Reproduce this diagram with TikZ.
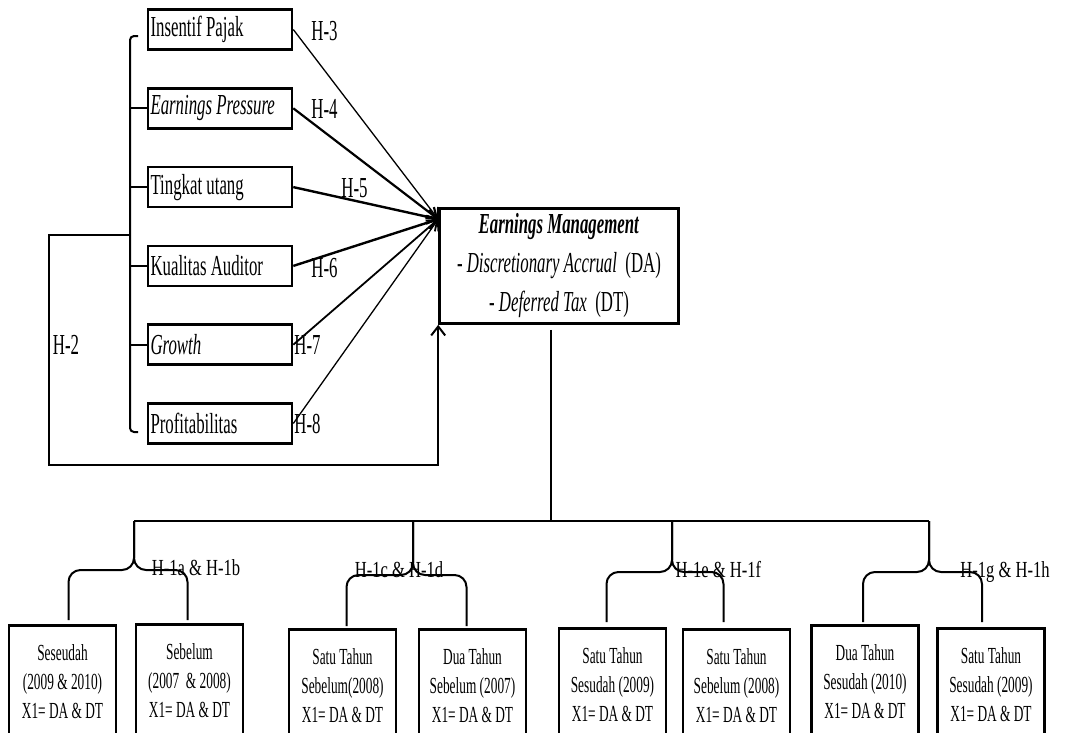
\documentclass[tikz,border=0pt]{standalone}
\usepackage{fontspec}
\setmainfont[FakeStretch=0.58]{Liberation Serif}
\newfontfamily\lblfont[FakeStretch=0.72]{Liberation Serif}
\usetikzlibrary{arrows.meta,positioning,calc}

\begin{document}
\begin{tikzpicture}[x=1pt, y=-1pt, >={Straight Barb[length=9pt,width=14pt]},
    varbox/.style={draw, line width=2.6pt, minimum width=144pt, minimum height=40pt,
      text width=139pt, align=left, inner xsep=2.5pt, font=\fontsize{29}{34}\selectfont,
      execute at begin node={\spaceskip=\fontdimen2\font}},
    yearbox/.style={draw, line width=2.6pt, anchor=north, minimum width=107pt,
      minimum height=112pt, text width=101pt, align=center, inner xsep=3pt,
      font=\fontsize{23}{29}\selectfont, execute at begin node={\spaceskip=\fontdimen2\font}},
    hlbl/.style={anchor=base, inner sep=0pt, font=\fontsize{29}{34}\selectfont},
    hsub/.style={anchor=base, inner sep=0pt, font=\lblfont\fontsize{23}{28}\selectfont},
    brk/.style={line width=2pt},
    arr/.style={->, line width=1.6pt},
    brace/.style={line width=2pt, rounded corners=12pt}]

    \useasboundingbox (0,0) rectangle (1074,732);
    \clip (0,0) rectangle (1074,732);

    \node[varbox] (ip) at (220,29.5) {Insentif Pajak};
    \node[varbox, below=36.2pt of ip] (ep) {\textit{Earnings Pressure}};
    \node[varbox, below=36.2pt of ep] (tu) {Tingkat utang};
    \node[varbox, below=36.2pt of tu] (ka) {Kualitas Auditor};
    \node[varbox, below=36.2pt of ka] (gr) {\textit{Growth}};
    \node[varbox, below=36.2pt of gr] (pf) {Profitabilitas};

    \node[draw, line width=2.6pt, minimum width=239pt, minimum height=115pt, align=center,
      font=\fontsize{29}{39}\selectfont] (em) at (559,266)
      {\textbf{\textit{Earnings Management}}\\- \textit{Discretionary Accrual}\ \ (DA)\\- \textit{Deferred Tax}\ \ (DT)};
    \coordinate (conv) at ([yshift=-12pt]em.north west);

    \draw[arr, line width=1.3pt] (ip.east) -- (conv);
    \draw[arr, line width=2.2pt] (ep.east) -- (conv);
    \draw[arr, line width=2.4pt] (tu.east) -- (conv);
    \draw[arr, line width=2.4pt] (ka.east) -- (conv);
    \draw[arr, line width=1.8pt] (gr.east) -- (conv);
    \draw[arr, line width=1.3pt] (pf.east) -- (conv);

    \node[hlbl] (h3) at (324.5,40) {H-3};
    \node[hlbl] (h4) at (324.5,118) {H-4};
    \node[hlbl] (h5) at (354.5,197) {H-5};
    \node[hlbl] (h6) at (324.5,277) {H-6};
    \node[hlbl] (h7) at (307.5,354) {H-7};
    \node[hlbl] (h8) at (307.5,433) {H-8};
    \node[hlbl] (h2) at (66,354) {H-2};

    \coordinate (brtop) at (138,36);
    \coordinate (brbot) at (138,432);
    \coordinate (brmid) at (130,235);
    \draw[brk, rounded corners=4pt] (brtop) -- (130,36) -- (130,432) -- (brbot);
    \draw[brk] (ep.west) -- ++(-18,0);
    \draw[brk] (tu.west) -- ++(-18,0);
    \draw[brk] (ka.west) -- ++(-18,0);
    \draw[brk] (gr.west) -- ++(-18,0);

    \coordinate (h2a) at (49,235);
    \coordinate (h2b) at (49,465);
    \draw[brk, ->] (brmid) -- (h2a) -- (h2b) -| (em.south west);

    \node[yearbox] (b1) at (62.5,624) {Seseudah\\(2009 \& 2010)\\X1= DA \& DT};
    \node[yearbox] (b2) at (189.5,623) {Sebelum\\(2007\ \ \& 2008)\\X1= DA \& DT};
    \node[yearbox] (b3) at (342.5,628) {Satu Tahun\\Sebelum(2008)\\X1= DA \& DT};
    \node[yearbox] (b4) at (472.5,628) {Dua Tahun\\Sebelum (2007)\\X1= DA \& DT};
    \node[yearbox] (b5) at (612.5,627) {Satu Tahun\\Sesudah (2009)\\X1= DA \& DT};
    \node[yearbox] (b6) at (736.5,628) {Satu Tahun\\Sebelum (2008)\\X1= DA \& DT};
    \node[yearbox] (b7) at (865,624) {Dua Tahun\\Sesudah (2010)\\X1= DA \& DT};
    \node[yearbox] (b8) at (991,627) {Satu Tahun\\Sesudah (2009)\\X1= DA \& DT};

    \coordinate (busL) at (134,521);
    \coordinate (busR) at (929,521);
    \draw[line width=1.3pt] ([xshift=-8pt,yshift=-5pt]em.south) -- ++(0,191);
    \draw[line width=2.6pt] (busL) -- (busR);

    \draw[brace] (busL) -- (134,570) -| ([xshift=6pt,yshift=4pt]b1.north);
    \draw[brace] (busL) -- (134,570) -| ([xshift=-2pt,yshift=3pt]b2.north);
    \draw[brace] (413,521) -- (413,575) -| ([xshift=4pt,yshift=2pt]b3.north);
    \draw[brace] (413,521) -- (413,575) -| ([xshift=-6pt,yshift=2pt]b4.north);
    \draw[brace] (672,521) -- (672,572) -| ([xshift=-6pt,yshift=5pt]b5.north);
    \draw[brace] (672,521) -- (672,572) -| ([xshift=-13pt,yshift=6pt]b6.north);
    \draw[brace] (busR) -- (929,572) -| ([xshift=-2pt,yshift=2pt]b7.north);
    \draw[brace] (busR) -- (929,572) -| ([xshift=-9pt,yshift=5pt]b8.north);

    \node[hsub] (h1ab) at (196,575) {H-1a \& H-1b};
    \node[hsub] (h1cd) at (399,577) {H-1c \& H-1d};
    \node[hsub] (h1ef) at (718.5,577) {H-1e \& H-1f};
    \node[hsub] (h1gh) at (1005,577) {H-1g \& H-1h};
\end{tikzpicture}
\end{document}
